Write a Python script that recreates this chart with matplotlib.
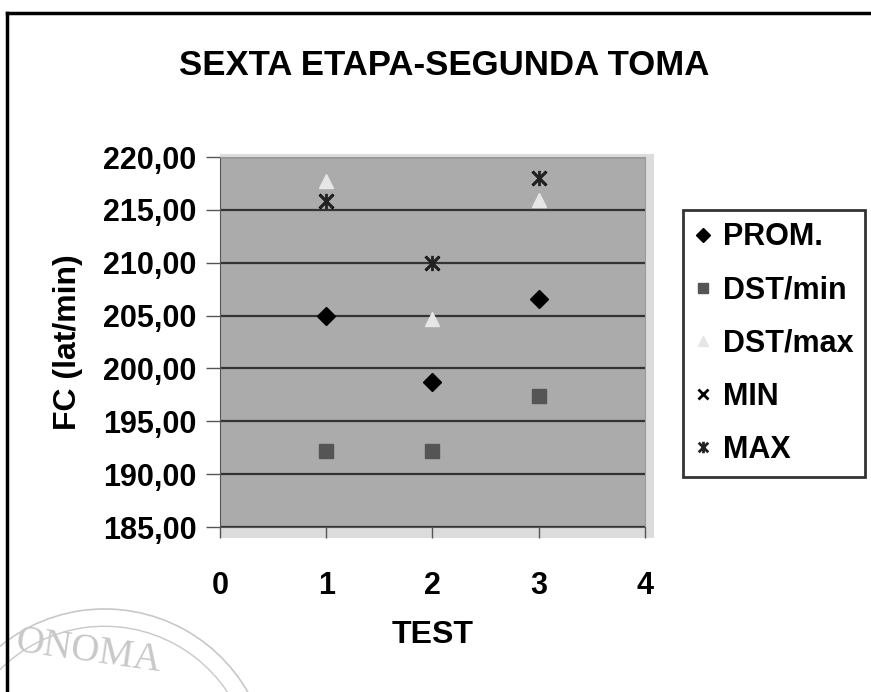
import numpy as np
import matplotlib
matplotlib.use("Agg")
import matplotlib.pyplot as plt
from matplotlib.path import Path
from matplotlib.lines import Line2D
from matplotlib.patches import Rectangle, Arc

# data
tests = [1, 2, 3]
prom = [205.0, 198.7, 206.6]
dst_min = [192.2, 192.2, 197.4]
dst_max = [217.7, 204.7, 215.9]
fc_min = [215.8, 210.0, 218.0]
fc_max = [215.8, 210.0, 218.0]

y_ticks = [185, 190, 195, 200, 205, 210, 215, 220]
y_labels = ["185,00", "190,00", "195,00", "200,00", "205,00", "210,00", "215,00", "220,00"]
x_ticks = [0, 1, 2, 3, 4]

plt.rcParams['font.family'] = ['Liberation Sans', 'DejaVu Sans']
plt.rcParams['font.weight'] = 'bold'

# Excel style "*" marker: an x with a vertical bar
star = Path([(-1, -1), (1, 1), (-1, 1), (1, -1), (0, -1.2), (0, 1.2)],
            [Path.MOVETO, Path.LINETO, Path.MOVETO, Path.LINETO, Path.MOVETO, Path.LINETO])

fig = plt.figure(figsize=(8.71, 6.92), dpi=100)
ax = fig.add_axes([0.2526, 0.2384, 0.4879, 0.5347])

# light shadow band round the plot area
fig.add_artist(Rectangle((0.2526, 0.222), 0.498, 0.556, transform=fig.transFigure,
                         facecolor='#dcdcdc', edgecolor='none', zorder=0))
ax.set_facecolor('#ababab')
ax.set_zorder(1)

ax.plot(tests, prom, linestyle='none', marker='D', markersize=9, color='black', label='PROM.')
ax.plot(tests, dst_min, linestyle='none', marker='s', markersize=10, color='#555555', label='DST/min')
ax.plot(tests, dst_max, linestyle='none', marker='^', markersize=10, color='#e6e6e6', label='DST/max')
ax.plot(tests, fc_min, linestyle='none', marker='x', markersize=10, markeredgewidth=2, color='black', label='MIN')
ax.plot(tests, fc_max, linestyle='none', marker=star, markersize=11, markeredgewidth=2, color='#222222', label='MAX')

ax.set_xlim(0, 4)
ax.set_ylim(185, 220)
ax.set_xticks(x_ticks)
ax.set_yticks(y_ticks)
ax.set_yticklabels(y_labels)
ax.yaxis.grid(True, color='#333333', linewidth=1.6)
ax.set_axisbelow(True)
for s in ['top', 'right']:
    ax.spines[s].set_color('#9a9a9a')
for s in ['left', 'bottom']:
    ax.spines[s].set_color('#555555')
ax.tick_params(axis='y', direction='out', length=10, width=1, color='#555555', labelsize=22, pad=7)
ax.tick_params(axis='x', direction='out', length=8, width=1, color='#555555', labelsize=22, pad=24)

fig.text(0.51, 0.8916, 'SEXTA ETAPA-SEGUNDA TOMA', fontsize=25, fontweight='bold',
         ha='center', va='baseline')
ax.set_xlabel('TEST', fontsize=23, fontweight='bold', labelpad=13)
ax.set_ylabel('FC (lat/min)', fontsize=23, fontweight='bold', labelpad=14)

leg = fig.legend(loc='upper left', bbox_to_anchor=(0.784, 0.6965), frameon=True, fontsize=22,
                 handlelength=0.5, handletextpad=0.4, labelspacing=0.76, borderpad=0.4,
                 borderaxespad=0, fancybox=False, markerscale=0.75)
leg.get_frame().set_edgecolor('black')
leg.get_frame().set_linewidth(2)

# page frame of the scan
fig.add_artist(Line2D([0.008, 1.0], [0.981, 0.981], transform=fig.transFigure, color='black', linewidth=2.5))
fig.add_artist(Line2D([0.008, 0.008], [0.0, 0.981], transform=fig.transFigure, color='black', linewidth=2.5))

# faint seal in the corner
fig.add_artist(Arc((0.12, -0.12), 0.38, 0.48, theta1=30, theta2=170, transform=fig.transFigure,
                   color='#c8c8c8', linewidth=1.2))
fig.add_artist(Arc((0.12, -0.12), 0.34, 0.43, theta1=30, theta2=170, transform=fig.transFigure,
                   color='#c8c8c8', linewidth=1.0))
fig.text(0.015, 0.03, 'ONOMA', fontsize=28, family='Liberation Serif', fontweight='normal',
         color='#c8c8c8', rotation=-8)

fig.savefig('out.png', dpi=100)
